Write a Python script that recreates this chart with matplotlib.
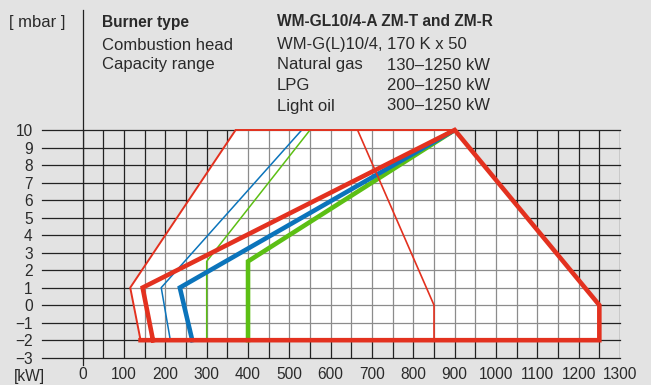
import matplotlib
matplotlib.use("Agg")
import matplotlib.pyplot as plt
from matplotlib.patches import Polygon

plt.rcParams['font.family'] = ['Liberation Sans', 'DejaVu Sans']

# capacity (kW) / pressure (mbar) points of each curve
env_thin_x = [140, 115, 370, 900]
env_thin_y = [-2, 1, 10, 10]
red_thick_x = [170, 145, 900, 1250, 1250, 140]
red_thick_y = [-2, 1, 10, 0, -2, -2]
red_inner_x = [665, 850, 850]
red_inner_y = [10, 0, -2]
blue_thick_x = [900, 235, 265]
blue_thick_y = [10, 1, -2]
blue_thin_x = [530, 190, 212]
blue_thin_y = [10, 1, -2]
green_thick_x = [900, 400, 400]
green_thick_y = [10, 2.5, -2]
green_thin_x = [550, 300, 300]
green_thin_y = [10, 2.5, -2]

xticks = list(range(0, 1301, 100))
yticks = list(range(-3, 11))

RED = '#e3311f'
BLUE = '#0b74bb'
GREEN = '#5cbf14'
BG = '#e3e3e3'

W, H = 651, 385
fig = plt.figure(figsize=(W / 100, H / 100), dpi=100, facecolor=BG)
ax = fig.add_axes([82.7 / W, (H - 357.7) / H, (620 - 82.7) / W, (357.7 - 130) / H])
ax.set_facecolor(BG)
ax.set_xlim(0, 1300)
ax.set_ylim(-3, 10)
for s in ax.spines.values():
    s.set_visible(False)

# white operating region
region = Polygon(list(zip([370, 900, 1250, 1250, 140, 115], [10, 10, 0, -2, -2, 1])),
                 closed=True, facecolor='white', edgecolor='none', zorder=1)
ax.add_patch(region)

# grid: dark on grey, lighter inside the white region
for x in range(0, 1301, 50):
    ax.plot([x, x], [-3, 10], color='#222222', lw=0.9, zorder=0.5)
    ln, = ax.plot([x, x], [-3, 10], color='#8c8c8c', lw=0.9, zorder=1.5)
    ln.set_clip_path(region)
for y in yticks:
    ax.plot([-98, 1300], [y, y], color='#222222', lw=0.9, zorder=0.5, clip_on=False)
    ln, = ax.plot([0, 1300], [y, y], color='#8c8c8c', lw=0.9, zorder=1.5)
    ln.set_clip_path(region)
ax.plot([0, 0], [-3.4, 10], color='#222222', lw=0.9, zorder=0.5, clip_on=False)

ax.plot(green_thin_x, green_thin_y, color=GREEN, lw=1.1, zorder=3, solid_joinstyle='miter')
ax.plot(blue_thin_x, blue_thin_y, color=BLUE, lw=1.1, zorder=3, solid_joinstyle='miter')
ax.plot(green_thick_x, green_thick_y, color=GREEN, lw=3.3, zorder=4, solid_joinstyle='miter')
ax.plot(blue_thick_x, blue_thick_y, color=BLUE, lw=3.3, zorder=4, solid_joinstyle='miter')
ax.plot(env_thin_x, env_thin_y, color=RED, lw=1.4, zorder=5, solid_joinstyle='miter', clip_on=False)
ax.plot(red_inner_x, red_inner_y, color=RED, lw=1.2, zorder=5)
ax.plot(red_thick_x, red_thick_y, color=RED, lw=3.3, zorder=6, solid_joinstyle='miter', clip_on=False)

ax.set_xticks(xticks)
ax.set_yticks(yticks)
ax.tick_params(length=0, labelsize=11.2, colors='#2a2a2a', pad=7)
ax.tick_params(axis='y', pad=36)
ax.text(-130, -4.1, '[kW]', ha='center', va='center', fontsize=11.2, color='#2a2a2a')

# header
ax.plot([0, 0], [10, 16.85], color='#222222', lw=0.9, clip_on=False)
def px(x, y):
    return x / W, 1 - y / H
c = '#2a2a2a'
fig.text(*px(37, 22), '[ mbar ]', ha='center', va='center', fontsize=12, color=c)
fig.text(*px(102, 22), 'Burner type', va='center', fontsize=11.2, color=c, weight='bold')
fig.text(*px(277, 22), 'WM-GL10/4-A ZM-T and ZM-R', va='center', fontsize=11.2, color=c, weight='bold')
fig.text(*px(102, 45), 'Combustion head', va='center', fontsize=12, color=c)
fig.text(*px(277, 45), 'WM-G(L)10/4, 170 K x 50', va='center', fontsize=12, color=c)
fig.text(*px(102, 65), 'Capacity range', va='center', fontsize=12, color=c)
rows = [('Natural gas', '130–1250 kW'), ('LPG', '200–1250 kW'), ('Light oil', '300–1250 kW')]
for i, (fuel, rng) in enumerate(rows):
    fig.text(*px(277, 65 + 20.5 * i), fuel, va='center', fontsize=12, color=c)
    fig.text(*px(387, 65 + 20.5 * i), rng, va='center', fontsize=12, color=c)

fig.savefig('out.png', dpi=100, facecolor=BG)
